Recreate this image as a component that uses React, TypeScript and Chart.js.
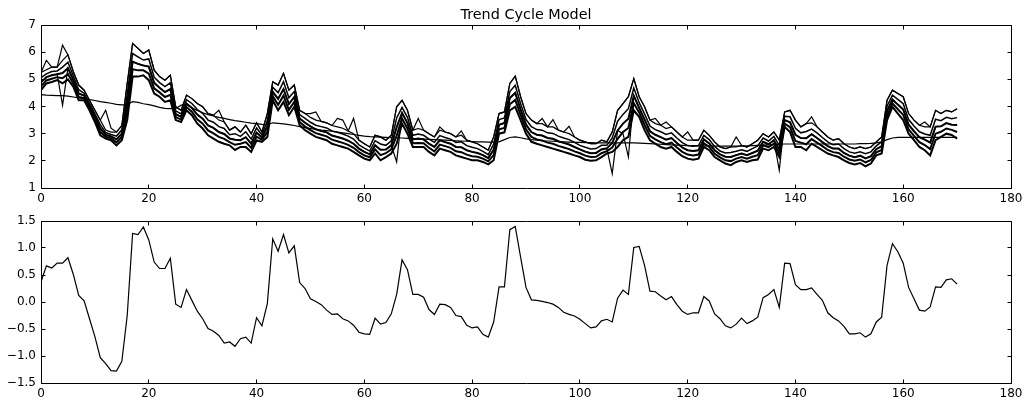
import React, { useEffect, useRef } from "react";
import { Chart, registerables } from "chart.js";
Chart.register(...registerables);

const seriesLow = [
  4.60,4.85,4.90,4.97,4.85,5.00,4.73,4.23,4.23,3.86,
  3.43,2.94,2.82,2.76,2.57,2.76,3.50,5.10,5.10,5.15,
  4.97,4.48,4.36,4.17,4.23,3.50,3.43,3.86,3.68,3.37,
  3.19,2.94,2.82,2.70,2.63,2.57,2.40,2.51,2.51,2.33,
  2.75,2.70,2.88,4.23,3.86,4.17,3.68,3.99,3.31,3.13,
  3.00,2.88,2.82,2.76,2.63,2.57,2.51,2.45,2.33,2.20,
  2.08,2.02,2.27,2.02,2.14,2.27,2.63,3.37,3.00,2.51,
  2.51,2.51,2.33,2.20,2.45,2.39,2.33,2.20,2.14,2.08,
  2.02,2.02,1.96,1.87,2.02,3.00,3.05,3.86,3.99,3.50,
  3.00,2.70,2.63,2.57,2.51,2.45,2.39,2.33,2.27,2.20,
  2.14,2.04,2.00,2.02,2.14,2.27,2.33,2.51,2.76,2.88,
  3.86,3.62,3.13,2.76,2.63,2.51,2.45,2.51,2.33,2.17,
  2.08,2.04,2.08,2.51,2.39,2.14,2.02,1.90,1.84,1.96,
  2.02,1.96,2.02,2.05,2.45,2.39,2.51,2.14,3.25,3.06,
  2.51,2.51,2.39,2.63,2.51,2.39,2.27,2.20,2.14,2.02,
  1.92,1.87,1.92,1.80,1.90,2.20,2.27,3.50,3.99,3.74,
  3.50,3.00,2.76,2.51,2.39,2.20,2.76,2.88,3.00,2.95,
  2.82,
];
const seriesA = [
  4.74,4.96,5.02,5.08,5.04,5.20,4.85,4.35,4.31,3.94,
  3.52,3.06,2.89,2.83,2.68,2.88,3.80,5.37,5.33,5.33,
  5.21,4.67,4.52,4.35,4.43,3.61,3.52,3.98,3.81,3.53,
  3.37,3.12,3.01,2.88,2.81,2.69,2.59,2.63,2.69,2.48,
  2.89,2.78,3.07,4.38,4.06,4.40,3.88,4.17,3.43,3.26,
  3.13,3.02,2.96,2.90,2.78,2.72,2.66,2.59,2.48,2.32,
  2.20,2.13,2.42,2.21,2.28,2.42,2.93,3.56,3.19,2.65,
  2.66,2.65,2.48,2.35,2.60,2.54,2.48,2.35,2.32,2.23,
  2.17,2.15,2.08,1.98,2.21,3.16,3.21,4.08,4.24,3.69,
  3.16,2.88,2.79,2.75,2.67,2.63,2.55,2.49,2.43,2.35,
  2.28,2.19,2.14,2.15,2.28,2.36,2.49,2.81,3.06,3.21,
  4.12,3.78,3.32,2.92,2.79,2.69,2.61,2.67,2.49,2.33,
  2.23,2.20,2.23,2.65,2.51,2.26,2.13,2.02,1.99,2.08,
  2.14,2.08,2.15,2.21,2.57,2.50,2.63,2.28,3.37,3.24,
  2.73,2.67,2.61,2.80,2.67,2.54,2.40,2.32,2.29,2.15,
  2.05,2.00,2.05,1.94,2.03,2.31,2.40,3.66,4.12,3.90,
  3.69,3.16,2.92,2.69,2.58,2.43,3.00,3.07,3.19,3.14,
  3.06,
];
const seriesB = [
  4.89,5.08,5.15,5.19,5.23,5.41,4.98,4.48,4.40,4.03,
  3.62,3.19,2.96,2.90,2.79,3.00,4.11,5.65,5.57,5.51,
  5.47,4.87,4.69,4.53,4.64,3.72,3.62,4.11,3.95,3.70,
  3.55,3.30,3.21,3.06,2.99,2.82,2.78,2.76,2.87,2.63,
  3.04,2.86,3.27,4.54,4.28,4.64,4.09,4.35,3.56,3.40,
  3.27,3.16,3.10,3.05,2.93,2.88,2.82,2.74,2.63,2.45,
  2.33,2.24,2.57,2.41,2.42,2.57,3.24,3.76,3.39,2.79,
  2.82,2.79,2.63,2.51,2.76,2.69,2.63,2.51,2.50,2.39,
  2.33,2.29,2.21,2.10,2.41,3.33,3.39,4.31,4.50,3.89,
  3.33,3.06,2.96,2.93,2.84,2.81,2.72,2.66,2.60,2.51,
  2.42,2.34,2.28,2.29,2.42,2.46,2.66,3.12,3.37,3.55,
  4.39,3.95,3.52,3.09,2.96,2.87,2.78,2.84,2.66,2.49,
  2.39,2.36,2.39,2.79,2.64,2.39,2.24,2.15,2.14,2.21,
  2.27,2.21,2.29,2.37,2.70,2.61,2.76,2.42,3.50,3.42,
  2.96,2.84,2.83,2.98,2.84,2.69,2.54,2.45,2.45,2.29,
  2.19,2.13,2.19,2.09,2.17,2.43,2.54,3.83,4.26,4.07,
  3.89,3.33,3.09,2.87,2.78,2.67,3.26,3.27,3.39,3.33,
  3.32,
];
const seriesC = [
  5.06,5.20,5.29,5.31,5.45,5.63,5.12,4.62,4.49,4.12,
  3.73,3.33,3.04,2.97,2.91,3.14,4.45,5.95,5.83,5.71,
  5.75,5.08,4.88,4.73,4.87,3.84,3.73,4.25,4.11,3.89,
  3.75,3.50,3.42,3.26,3.19,2.96,3.00,2.90,3.07,2.80,
  3.21,2.95,3.48,4.71,4.51,4.91,4.32,4.55,3.70,3.56,
  3.42,3.31,3.26,3.21,3.10,3.05,2.99,2.91,2.80,2.59,
  2.47,2.36,2.74,2.62,2.57,2.74,3.58,3.97,3.60,2.94,
  2.99,2.94,2.80,2.68,2.93,2.86,2.80,2.68,2.70,2.56,
  2.50,2.45,2.35,2.23,2.62,3.52,3.58,4.55,4.78,4.10,
  3.52,3.26,3.15,3.13,3.03,3.01,2.91,2.84,2.78,2.68,
  2.57,2.50,2.44,2.45,2.57,2.57,2.84,3.46,3.71,3.92,
  4.68,4.14,3.73,3.28,3.15,3.07,2.97,3.03,2.84,2.67,
  2.56,2.54,2.56,2.94,2.78,2.53,2.36,2.29,2.31,2.35,
  2.41,2.35,2.45,2.55,2.84,2.73,2.90,2.57,3.64,3.62,
  3.20,3.03,3.08,3.17,3.03,2.86,2.70,2.59,2.62,2.45,
  2.33,2.28,2.33,2.26,2.33,2.55,2.70,4.01,4.42,4.26,
  4.10,3.52,3.28,3.07,2.99,2.94,3.53,3.48,3.60,3.55,
  3.59,
];
const seriesHigh = [
  5.25,5.35,5.45,5.45,5.70,5.90,5.28,4.79,4.60,4.23,
  3.86,3.50,3.13,3.06,3.06,3.30,4.85,6.32,6.14,5.95,
  6.08,5.34,5.10,4.97,5.15,3.99,3.86,4.42,4.29,4.11,
  3.99,3.74,3.68,3.50,3.43,3.13,3.25,3.06,3.31,3.00,
  3.40,3.06,3.74,4.91,4.79,5.22,4.60,4.79,3.86,3.74,
  3.60,3.50,3.45,3.40,3.30,3.25,3.20,3.10,3.00,2.76,
  2.63,2.51,2.94,2.88,2.76,2.94,3.99,4.23,3.86,3.13,
  3.19,3.13,3.00,2.88,3.13,3.06,3.00,2.88,2.94,2.76,
  2.70,2.63,2.51,2.39,2.88,3.74,3.80,4.85,5.12,4.36,
  3.74,3.50,3.37,3.37,3.25,3.25,3.13,3.06,3.00,2.88,
  2.76,2.70,2.63,2.63,2.76,2.70,3.06,3.86,4.11,4.36,
  5.03,4.36,3.99,3.50,3.37,3.31,3.19,3.25,3.06,2.88,
  2.76,2.76,2.76,3.13,2.94,2.70,2.51,2.45,2.51,2.51,
  2.57,2.51,2.63,2.76,3.00,2.88,3.06,2.76,3.80,3.86,
  3.50,3.25,3.37,3.40,3.25,3.06,2.88,2.76,2.82,2.63,
  2.51,2.45,2.51,2.45,2.51,2.70,2.88,4.23,4.60,4.48,
  4.36,3.74,3.50,3.31,3.25,3.25,3.86,3.74,3.86,3.80,
  3.92,
];
const seriesOutlier = [
  5.25,5.70,5.45,5.45,6.26,5.90,5.28,4.79,4.60,4.23,
  3.86,3.50,3.86,3.20,3.06,3.30,4.85,6.32,6.14,5.95,
  6.08,5.34,5.10,4.97,5.15,3.99,3.86,4.42,4.29,4.11,
  3.99,3.74,3.68,3.86,3.43,3.13,3.25,3.06,3.31,3.00,
  3.40,3.06,3.74,4.91,4.79,5.22,4.60,4.79,3.86,3.74,
  3.74,3.80,3.45,3.40,3.30,3.56,3.50,3.10,3.56,2.76,
  2.63,2.51,2.94,2.88,2.76,2.94,3.99,4.23,3.86,3.13,
  3.56,3.13,3.00,2.88,3.25,3.06,3.00,2.88,3.10,2.76,
  2.70,2.63,2.51,2.39,2.88,3.74,3.80,4.85,5.12,4.36,
  3.74,3.50,3.37,3.56,3.25,3.52,3.13,3.06,3.27,2.88,
  2.76,2.70,2.63,2.63,2.76,2.70,3.06,3.86,4.11,4.36,
  5.03,4.36,3.99,3.50,3.56,3.31,3.43,3.25,3.06,2.88,
  3.06,2.76,2.76,3.13,2.94,2.70,2.51,2.45,2.51,2.88,
  2.57,2.51,2.63,2.76,3.00,2.88,3.06,2.76,3.80,3.86,
  3.50,3.25,3.37,3.62,3.25,3.06,2.88,2.76,2.82,2.63,
  2.51,2.45,2.51,2.45,2.51,2.70,2.88,4.23,4.60,4.48,
  4.36,3.74,3.50,3.31,3.43,3.25,3.86,3.74,3.86,3.80,
  3.92,
];
const seriesDip = [
  4.89,5.08,5.15,5.19,4.05,5.41,4.98,4.48,4.40,4.03,
  3.62,3.19,2.96,2.90,2.79,3.00,4.11,5.65,5.57,5.51,
  5.47,4.87,4.69,4.53,4.64,3.72,3.62,4.11,3.95,3.70,
  3.55,3.30,3.21,3.06,2.99,2.82,2.78,2.76,2.87,2.63,
  3.04,2.86,3.27,4.54,4.28,4.64,4.09,4.35,3.56,3.40,
  3.27,3.16,3.10,3.05,2.93,2.88,2.82,2.74,2.63,2.45,
  2.33,2.24,2.57,2.41,2.42,2.57,1.96,3.76,3.39,2.79,
  2.82,2.79,2.63,2.51,2.76,2.69,2.63,2.51,2.50,2.39,
  2.33,2.29,2.21,2.10,2.41,3.33,3.39,4.31,4.50,3.89,
  3.33,3.06,2.96,2.93,2.84,2.81,2.72,2.66,2.60,2.51,
  2.42,2.34,2.28,2.29,2.42,2.46,1.53,3.12,3.00,2.14,
  4.39,3.95,3.52,3.09,2.96,2.87,2.78,2.84,2.66,2.49,
  2.39,2.36,2.39,2.79,2.64,2.39,2.24,2.15,2.14,2.21,
  2.27,2.21,2.29,2.37,2.70,2.61,2.76,1.65,3.50,3.42,
  2.96,2.84,2.83,2.98,2.84,2.69,2.54,2.45,2.45,2.29,
  2.19,2.13,2.19,2.09,2.17,2.43,2.54,3.83,4.26,4.07,
  3.89,3.33,3.09,2.87,2.78,2.67,3.26,3.27,3.39,3.33,
  3.32,
];
const trend = [
  4.44,4.42,4.41,4.40,4.40,4.38,4.35,4.32,4.29,4.25,
  4.22,4.18,4.15,4.12,4.08,4.06,4.06,4.18,4.15,4.10,
  4.07,4.02,3.97,3.93,3.92,3.93,4.05,4.07,3.95,3.85,
  3.77,3.70,3.65,3.60,3.56,3.52,3.48,3.45,3.42,3.39,
  3.37,3.34,3.33,3.40,3.38,3.36,3.33,3.30,3.26,3.22,
  3.19,3.16,3.13,3.11,3.09,3.06,3.03,3.00,2.97,2.94,
  2.91,2.89,2.88,2.87,2.86,2.85,2.85,2.84,2.83,2.82,
  2.81,2.80,2.79,2.78,2.77,2.76,2.75,2.74,2.73,2.72,
  2.71,2.70,2.70,2.69,2.69,2.70,2.78,2.86,2.88,2.85,
  2.81,2.78,2.76,2.74,2.73,2.72,2.71,2.70,2.69,2.68,
  2.68,2.67,2.67,2.66,2.66,2.66,2.66,2.66,2.66,2.66,
  2.66,2.65,2.64,2.63,2.62,2.61,2.60,2.59,2.58,2.57,
  2.56,2.56,2.55,2.55,2.55,2.54,2.54,2.54,2.54,2.54,
  2.54,2.55,2.56,2.57,2.58,2.59,2.60,2.61,2.62,2.62,
  2.62,2.62,2.62,2.62,2.62,2.62,2.62,2.62,2.62,2.62,
  2.62,2.62,2.63,2.63,2.64,2.66,2.70,2.78,2.84,2.86,
  2.86,2.86,2.86,2.86,2.86,2.86,2.86,2.86,2.86,2.86,
  2.86,
];

// ---- Bottom panel: cycle component ----
const cycle = [
  0.37,0.67,0.63,0.72,0.72,0.82,0.51,0.12,0.02,-0.31,
  -0.64,-1.03,-1.14,-1.27,-1.28,-1.10,-0.25,1.27,1.25,1.39,
  1.15,0.74,0.62,0.62,0.81,-0.04,-0.10,0.23,0.03,-0.17,
  -0.31,-0.49,-0.54,-0.62,-0.76,-0.74,-0.82,-0.68,-0.65,-0.76,
  -0.29,-0.44,-0.03,1.17,0.94,1.25,0.91,1.04,0.36,0.25,
  0.06,0.01,-0.05,-0.15,-0.23,-0.22,-0.31,-0.35,-0.43,-0.56,
  -0.59,-0.60,-0.30,-0.41,-0.38,-0.22,0.14,0.78,0.60,0.14,
  0.14,0.09,-0.14,-0.23,-0.04,-0.05,-0.10,-0.25,-0.27,-0.43,
  -0.48,-0.46,-0.60,-0.65,-0.37,0.28,0.28,1.34,1.40,0.83,
  0.27,0.04,0.03,0.01,-0.01,-0.04,-0.10,-0.19,-0.23,-0.26,
  -0.32,-0.40,-0.48,-0.46,-0.35,-0.32,-0.37,0.07,0.22,0.14,
  1.01,1.03,0.68,0.20,0.19,0.11,0.04,0.10,-0.05,-0.17,
  -0.23,-0.20,-0.20,0.10,0.02,-0.22,-0.31,-0.44,-0.48,-0.41,
  -0.30,-0.40,-0.35,-0.28,0.08,0.14,0.23,-0.10,0.72,0.71,
  0.32,0.23,0.23,0.26,0.14,0.03,-0.20,-0.29,-0.35,-0.45,
  -0.59,-0.59,-0.57,-0.65,-0.59,-0.37,-0.28,0.68,1.08,0.93,
  0.72,0.27,0.06,-0.15,-0.17,-0.09,0.28,0.27,0.41,0.43,
  0.33,
];

const timeIndex = cycle.map((_, i) => i);
const xTicks = [0, 20, 40, 60, 80, 100, 120, 140, 160, 180];
const topYTicks = [1, 2, 3, 4, 5, 6, 7];
const bottomYTicks = [-1.5, -1.0, -0.5, 0.0, 0.5, 1.0, 1.5];
const titleText = "Trend Cycle Model";

const FONT = '"DejaVu Sans", "Liberation Sans", sans-serif';

const toPoints = (vals: number[]) => vals.map((v, i) => ({ x: timeIndex[i], y: v }));

function framePlugin(title?: string) {
  return {
    id: "frameTicks",
    afterDraw(chart: any) {
      const { ctx, chartArea } = chart;
      const xs = chart.scales.x;
      const ys = chart.scales.y;
      const L = Math.floor(chartArea.left) + 0.5;
      const R = Math.floor(chartArea.right) + 0.5;
      const T = Math.floor(chartArea.top) + 0.5;
      const B = Math.floor(chartArea.bottom) + 0.5;
      ctx.save();
      ctx.strokeStyle = "#000";
      ctx.lineWidth = 1;
      ctx.beginPath();
      ctx.rect(L, T, R - L, B - T);
      const tl = 4;
      xs.ticks.forEach((t: any) => {
        const px = Math.floor(xs.getPixelForValue(t.value)) + 0.5;
        ctx.moveTo(px, B);
        ctx.lineTo(px, B - tl);
        ctx.moveTo(px, T);
        ctx.lineTo(px, T + tl);
      });
      ys.ticks.forEach((t: any) => {
        const py = Math.floor(ys.getPixelForValue(t.value)) + 0.5;
        ctx.moveTo(L, py);
        ctx.lineTo(L + tl, py);
        ctx.moveTo(R, py);
        ctx.lineTo(R - tl, py);
      });
      ctx.stroke();
      if (title) {
        ctx.fillStyle = "#000";
        ctx.font = `14.4px ${FONT}`;
        ctx.textAlign = "center";
        ctx.textBaseline = "alphabetic";
        ctx.fillText(title, (chartArea.left + chartArea.right) / 2, chartArea.top - 6);
      }
      ctx.restore();
    },
  };
}

function makeOptions(opts: {
  canvasH: number;
  areaTop: number;
  areaBottom: number;
  yMin: number;
  yMax: number;
  yStep: number;
  yTicks: number[];
  yFmt: (v: number) => string;
}) {
  const { canvasH, areaTop, areaBottom, yMin, yMax, yStep, yTicks, yFmt } = opts;
  return {
    responsive: false,
    animation: false as const,
    devicePixelRatio: 1,
    layout: { padding: { left: 0, right: 1027 - 1011, top: areaTop, bottom: 0 } },
    plugins: { legend: { display: false }, tooltip: { enabled: false }, title: { display: false } },
    elements: { point: { radius: 0 }, line: { tension: 0 } },
    scales: {
      x: {
        type: "linear" as const,
        min: 0,
        max: 180,
        afterFit(s: any) {
          s.height = canvasH - areaBottom;
        },
        afterBuildTicks(s: any) {
          s.ticks = xTicks.map((v) => ({ value: v }));
        },
        ticks: {
          color: "#000",
          font: { family: FONT, size: 12 },
          padding: 4,
          maxRotation: 0,
          autoSkip: false,
        },
        grid: { display: false, drawTicks: false },
        border: { display: false },
      },
      y: {
        type: "linear" as const,
        min: yMin,
        max: yMax,
        afterFit(s: any) {
          s.width = 41;
        },
        afterBuildTicks(s: any) {
          s.ticks = yTicks.map((v) => ({ value: v }));
        },
        ticks: {
          color: "#000",
          font: { family: FONT, size: 12 },
          padding: 5,
          stepSize: yStep,
          callback: (v: any) => yFmt(Number(v)),
        },
        grid: { display: false, drawTicks: false },
        border: { display: false },
      },
    },
  };
}

const lineDs = (vals: number[], width: number) => ({
  data: toPoints(vals),
  borderColor: "#000",
  borderWidth: width,
  pointRadius: 0,
  fill: false,
});

export default function App() {
  const topRef = useRef<HTMLCanvasElement>(null);
  const botRef = useRef<HTMLCanvasElement>(null);

  useEffect(() => {
    const topChart = new Chart(topRef.current as HTMLCanvasElement, {
      type: "line",
      data: {
        datasets: [
          lineDs(seriesLow, 2),
          lineDs(seriesA, 2),
          lineDs(seriesB, 2),
          lineDs(seriesC, 1.5),
          lineDs(seriesHigh, 1.2),
          lineDs(seriesOutlier, 1.2),
          lineDs(seriesDip, 1.2),
          lineDs(trend, 1.2),
        ],
      },
      options: makeOptions({
        canvasH: 207,
        areaTop: 25,
        areaBottom: 188,
        yMin: 1,
        yMax: 7,
        yStep: 1,
        yTicks: topYTicks,
        yFmt: (v) => String(Math.round(v)),
      }) as any,
      plugins: [framePlugin(titleText)],
    });
    const botChart = new Chart(botRef.current as HTMLCanvasElement, {
      type: "line",
      data: { datasets: [lineDs(cycle, 1.2)] },
      options: makeOptions({
        canvasH: 194,
        areaTop: 14,
        areaBottom: 176,
        yMin: -1.5,
        yMax: 1.5,
        yStep: 0.5,
        yTicks: bottomYTicks,
        yFmt: (v) => (v < 0 ? "\u2212" : "") + Math.abs(v).toFixed(1),
      }) as any,
      plugins: [framePlugin()],
    });
    return () => {
      topChart.destroy();
      botChart.destroy();
    };
  }, []);

  return (
    <div style={{ position: "absolute", left: 0, top: 0, width: 1027, height: 401, background: "#fff" }}>
      <canvas
        ref={topRef}
        width={1027}
        height={207}
        style={{ position: "absolute", left: 0, top: 0, width: 1027, height: 207 }}
      />
      <canvas
        ref={botRef}
        width={1027}
        height={194}
        style={{ position: "absolute", left: 0, top: 207, width: 1027, height: 194 }}
      />
    </div>
  );
}
